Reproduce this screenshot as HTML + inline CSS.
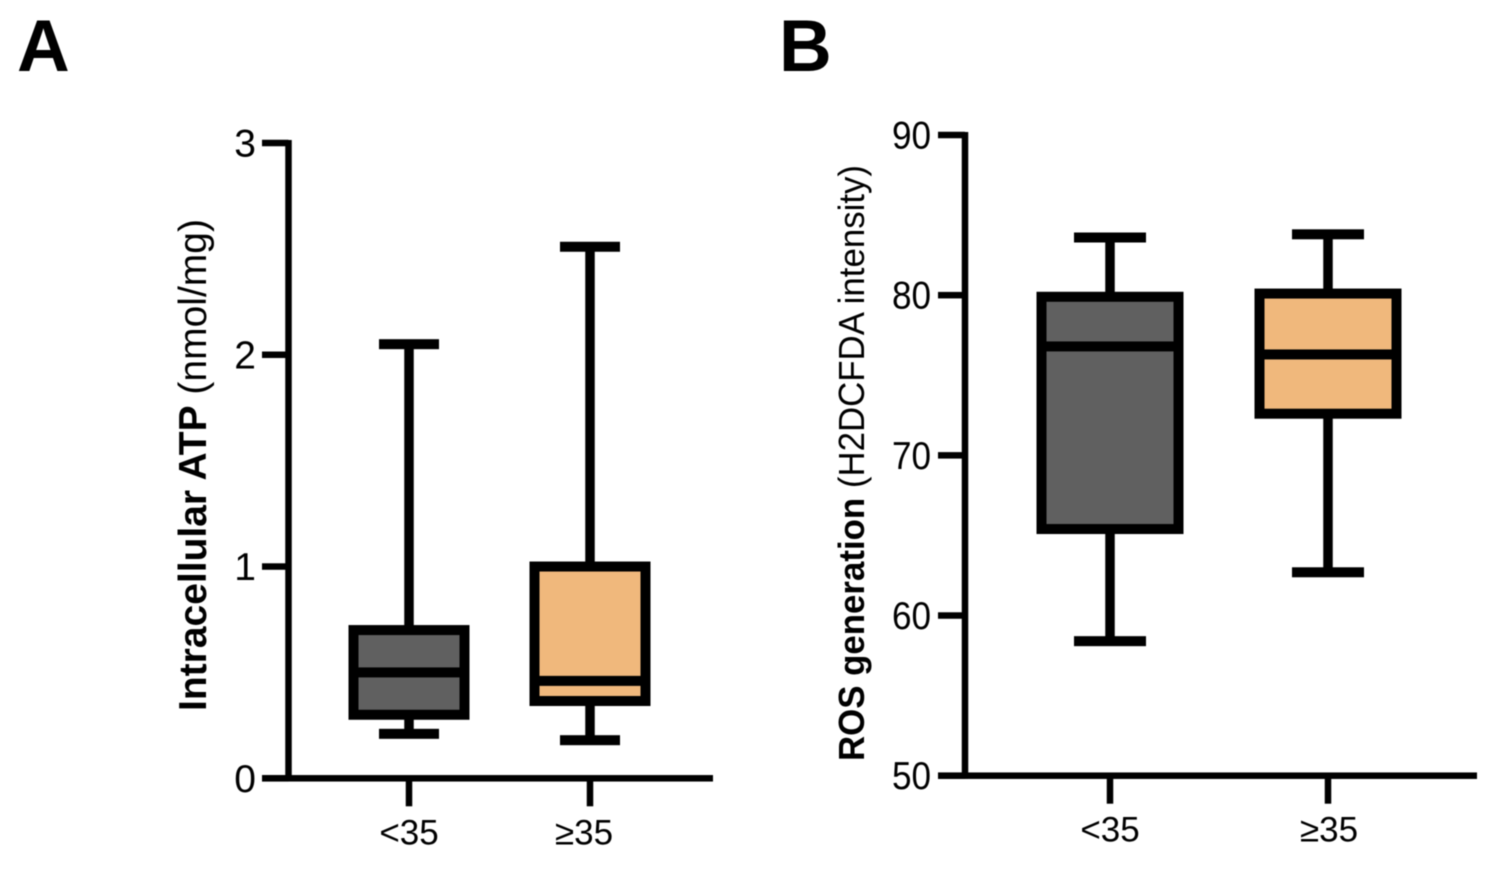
<!DOCTYPE html>
<html lang="en">
<head>
<meta charset="utf-8">
<title>Intracellular ATP and ROS generation box plots</title>
<style>
html,body{margin:0;padding:0;background:#fff;}
#figure{display:block;width:1494px;height:876px;filter:blur(0.4px);}
text{font-family:"Liberation Sans",Arial,sans-serif;fill:#000;}
</style>
</head>
<body>
<svg id="figure" xmlns="http://www.w3.org/2000/svg" width="1494" height="876" viewBox="0 0 1494 876"></svg>
<script>
// Shared categories
const categories = ['<35', '≥35'];

// Panel A: Intracellular ATP (nmol/mg)
const atpTicks = [0, 1, 2, 3];
const atpLow = [0.21, 0.18];
const atpQ1 = [0.30, 0.365];
const atpMedian = [0.50, 0.46];
const atpQ3 = [0.70, 1.00];
const atpHigh = [2.05, 2.51];

// Panel B: ROS generation (H2DCFDA intensity)
const rosTicks = [50, 60, 70, 80, 90];
const rosLow = [58.4, 62.7];
const rosQ1 = [65.4, 72.6];
const rosMedian = [76.8, 76.3];
const rosQ3 = [79.9, 80.1];
const rosHigh = [83.6, 83.8];

const boxColors = ['#606060', '#f0b87c'];
const svg = document.getElementById('figure');
const NS = 'http://www.w3.org/2000/svg';

function make(tag, attrs, text) {
  const el = document.createElementNS(NS, tag);
  for (const k in attrs) el.setAttribute(k, attrs[k]);
  if (text !== undefined) el.textContent = text;
  svg.appendChild(el);
  return el;
}

function linear(d0, d1, r0, r1) {
  return function (v) { return r0 + (v - d0) * (r1 - r0) / (d1 - d0); };
}

function hLine(x1, x2, y, w) {
  return make('rect', { x: x1, y: y - w / 2, width: x2 - x1, height: w, fill: '#000' });
}
function vLine(x, y1, y2, w) {
  return make('rect', { x: x - w / 2, y: y1, width: w, height: y2 - y1, fill: '#000' });
}

function squeezedText(str, x, y, size, sx, anchor) {
  return make('text', {
    transform: 'translate(' + x + ' ' + y + ') scale(' + sx + ' 1)',
    'font-size': size,
    'text-anchor': anchor
  }, str);
}

function drawPanel(p) {
  const y = linear(p.domain[0], p.domain[1], p.yBottom, p.yTop);

  // y axis
  const yAxis = vLine(p.axisX, p.yTop - 3, p.yBottom + 3, 6.5);
  
  

  // x axis
  const xAxis = hLine(p.tickLeft, p.xEnd, p.yBottom, 6.5);
  
  

  // y ticks and labels
  p.ticks.forEach(function (v) {
    const tick = hLine(p.tickLeft, p.axisX, y(v), 6.5);
    
    
    const label = squeezedText(String(v), p.tickLeft - p.labelGap, y(v) + 13.5, 39, p.tickScale, 'end');
    
    
  });

  // categories
  categories.forEach(function (c, i) {
    const cx = p.catX[i];

    const xTick = vLine(cx, p.yBottom, p.yBottom + 28, 6.5);
    
    

    const xLabel = squeezedText(c, cx + (i === 1 ? p.geOffset : 0), p.yBottom + 66, 35, p.catScale, 'middle');
    
    

    // whiskers
    const whisker = vLine(cx, y(p.high[i]), y(p.low[i]), 9.5);
    
    

    const capHigh = hLine(cx - p.capHalf, cx + p.capHalf, y(p.high[i]), 10);
    
    

    const capLow = hLine(cx - p.capHalf, cx + p.capHalf, y(p.low[i]), 10);
    
    

    // box
    const box = make('rect', {
      x: cx - p.boxHalf,
      y: y(p.q3[i]),
      width: p.boxHalf * 2,
      height: y(p.q1[i]) - y(p.q3[i]),
      fill: boxColors[i],
      stroke: '#000',
      'stroke-width': 10
    });
    
    

    const median = hLine(cx - p.boxHalf, cx + p.boxHalf, y(p.median[i]), 10);
    
    
  });

  // rotated axis title
  const title = make('text', {
    transform: 'translate(' + p.titleX + ' ' + p.titleY + ') rotate(-90) scale(' + p.titleScale + ' 1)',
    'font-size': p.titleSize
  });
  
  
  const bold = document.createElementNS(NS, 'tspan');
  bold.setAttribute('font-weight', 'bold');
  bold.textContent = p.titleBold;
  title.appendChild(bold);
  const normal = document.createElementNS(NS, 'tspan');
  normal.textContent = p.titleNormal;
  title.appendChild(normal);

  // panel letter
  const letter = make('text', {
    x: p.letterX,
    y: 71,
    'font-size': 73,
    'font-weight': 'bold'
  }, p.letter);
  
  
}

drawPanel({
  id: 'atp', letter: 'A', letterX: 17,
  domain: [0, 3], yBottom: 778.3, yTop: 143,
  axisX: 288.5, tickLeft: 262, labelGap: 6, xEnd: 713,
  catX: [409, 590], geOffset: -6, boxHalf: 55.5, capHalf: 30,
  ticks: atpTicks, low: atpLow, q1: atpQ1, median: atpMedian, q3: atpQ3, high: atpHigh,
  tickScale: 1, catScale: 1,
  titleX: 206, titleY: 711, titleSize: 39, titleScale: 1,
  titleBold: 'Intracellular ATP', titleNormal: ' (nmol/mg)'
});

drawPanel({
  id: 'ros', letter: 'B', letterX: 779,
  domain: [50, 90], yBottom: 775.7, yTop: 135,
  axisX: 965, tickLeft: 938, labelGap: 7, xEnd: 1477,
  catX: [1110, 1328], geOffset: 1, boxHalf: 68.5, capHalf: 36,
  ticks: rosTicks, low: rosLow, q1: rosQ1, median: rosMedian, q3: rosQ3, high: rosHigh,
  tickScale: 0.9, catScale: 1,
  titleX: 864, titleY: 761, titleSize: 36, titleScale: 0.968,
  titleBold: 'ROS generation', titleNormal: ' (H2DCFDA intensity)'
});
</script>
</body>
</html>
